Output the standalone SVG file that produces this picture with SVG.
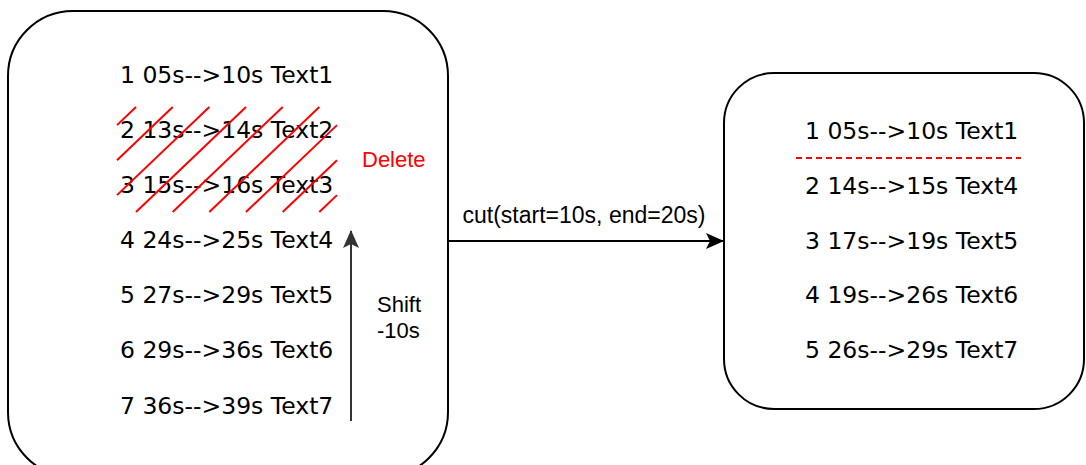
<svg xmlns="http://www.w3.org/2000/svg" width="1086" height="465" viewBox="0 0 1086 465">
<style>
.box{fill:#fff;stroke:#000;stroke-width:2}
.row{font-family:"DejaVu Sans",Verdana,sans-serif;font-size:23.5px;fill:#000}
.lbl{font-family:"Liberation Sans",Arial,sans-serif;font-size:22px;fill:#000}
.cut{font-size:23px}
.red{fill:#ff0000}
.hatch line{stroke:#ff0000;stroke-width:2}
</style>
<defs>
<marker id="ah" viewBox="0 0 18 16" refX="17" refY="8" markerWidth="18" markerHeight="16" markerUnits="userSpaceOnUse" orient="auto">
<path d="M0,0 L18,8 L0,16 L4,8 Z" fill="#000"/>
</marker>
<marker id="ah2" viewBox="0 0 18 16" refX="17" refY="8" markerWidth="18" markerHeight="16" markerUnits="userSpaceOnUse" orient="auto">
<path d="M0,0 L18,8 L0,16 L4,8 Z" fill="#333"/>
</marker>
</defs>
<g id="left-box">
<rect class="box" x="8" y="11" width="440" height="466" rx="65" ry="65"/>
<text class="row" x="120" y="83">1 05s--&gt;10s Text1</text>
<text class="row" x="120" y="138">2 13s--&gt;14s Text2</text>
<text class="row" x="120" y="193">3 15s--&gt;16s Text3</text>
<text class="row" x="120" y="248">4 24s--&gt;25s Text4</text>
<text class="row" x="120" y="303">5 27s--&gt;29s Text5</text>
<text class="row" x="120" y="358">6 29s--&gt;36s Text6</text>
<text class="row" x="120" y="414">7 36s--&gt;39s Text7</text>
</g>
<g id="hatch" class="hatch">
<line x1="136" y1="107" x2="117" y2="125.1"/>
<line x1="172.7" y1="107" x2="117" y2="160.2"/>
<line x1="209.3" y1="107" x2="117" y2="195.1"/>
<line x1="246" y1="107" x2="136" y2="212"/>
<line x1="282.7" y1="107" x2="172.7" y2="212"/>
<line x1="319.3" y1="107" x2="209.3" y2="212"/>
<line x1="337" y1="125.1" x2="246" y2="212"/>
<line x1="337" y1="160.2" x2="282.7" y2="212"/>
<line x1="337" y1="195.1" x2="319.3" y2="212"/>
</g>
<g id="delete-label">
<text class="lbl red" x="362" y="167">Delete</text>
</g>
<g id="shift-label">
<text class="lbl" x="377" y="312">Shift</text>
<text class="lbl" x="377" y="338">-10s</text>
</g>
<g id="right-box">
<rect class="box" x="724" y="73" width="360" height="336" rx="50" ry="50"/>
<text class="row" x="805" y="139">1 05s--&gt;10s Text1</text>
<text class="row" x="805" y="194">2 14s--&gt;15s Text4</text>
<text class="row" x="805" y="249">3 17s--&gt;19s Text5</text>
<text class="row" x="805" y="303">4 19s--&gt;26s Text6</text>
<text class="row" x="805" y="358">5 26s--&gt;29s Text7</text>
<line x1="796" y1="158" x2="1021" y2="158" stroke="#ff0000" stroke-width="2" stroke-dasharray="6 4"/>
</g>
<g id="connectors">
<line x1="448" y1="241" x2="723" y2="241" stroke="#000" stroke-width="2" marker-end="url(#ah)"/>
<text class="lbl cut" x="584" y="223" text-anchor="middle">cut(start=10s, end=20s)</text>
<line x1="351" y1="421" x2="351" y2="231" stroke="#333" stroke-width="2" marker-end="url(#ah2)"/>
</g>
</svg>
